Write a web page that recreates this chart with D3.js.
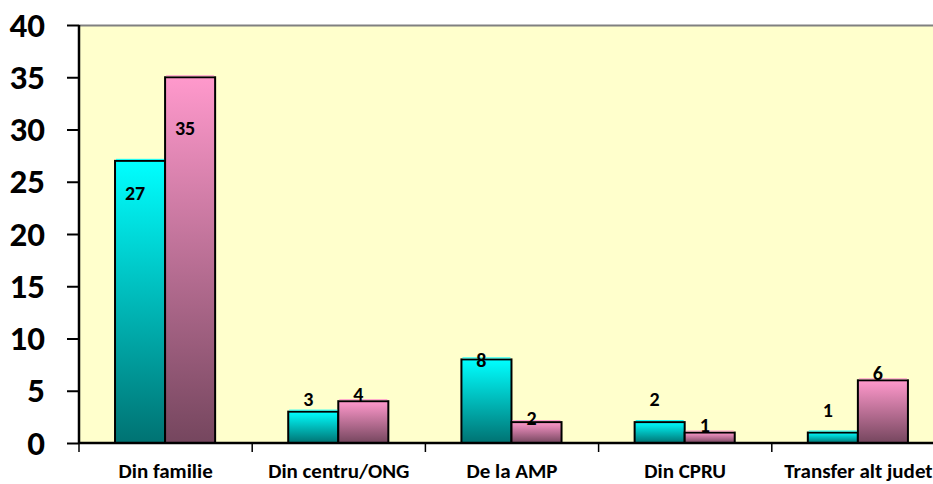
<!DOCTYPE html>
<html><head><meta charset="utf-8">
<script src="https://cdn.jsdelivr.net/npm/d3@7"></script>
<style>html,body{margin:0;padding:0;background:#fff;overflow:hidden}</style>
</head><body>
<svg id="c" width="933" height="484"></svg>
<script>
const categories = ["Din familie", "Din centru/ONG", "De la AMP", "Din CPRU", "Transfer alt judet"];
const seriesNames = ["S1", "S2"];
const series1 = [27, 3, 8, 2, 1];
const series2 = [35, 4, 2, 1, 6];
const yTicks = [0, 5, 10, 15, 20, 25, 30, 35, 40];
// label placement offsets (px, relative to bar top) as set manually in the original
const labelDy1 = [32, -13, 1, -23, -23];
const labelDy2 = [51, -7, -4, -8, -7];

(function () {
const svg = d3.select("#c");
const mLeft = 79, mTop = 25, mBottom = 443, mRight = 945;
const font = "Carlito, Calibri, Lato, 'Open Sans', sans-serif";

const x0 = d3.scaleBand().domain(categories).range([mLeft, mRight]);
const bw = x0.bandwidth();
const x1 = d3.scaleBand().domain(seriesNames).range([bw * 0.208, bw * 0.786]);
const y = d3.scaleLinear().domain([0, 40]).range([mBottom, mTop]);

const defs = svg.append("defs");
function grad(id, c1, c2) {
  const g = defs.append("linearGradient").attr("id", id).attr("x1", 0).attr("y1", 0).attr("x2", 0).attr("y2", 1);
  g.append("stop").attr("offset", "0%").attr("stop-color", c1);
  g.append("stop").attr("offset", "100%").attr("stop-color", c2);
}
grad("g1", "#00ffff", "#007272");
grad("g2", "#ff99cc", "#75465e");
const grads = ["url(#g1)", "url(#g2)"];
const topCols = ["#00ffff", "#ff99cc"];

svg.append("rect").attr("x", mLeft).attr("y", mTop).attr("width", mRight - mLeft).attr("height", mBottom - mTop)
  .attr("fill", "#ffffcc");
svg.append("line").attr("x1", mLeft).attr("x2", mRight).attr("y1", mTop + 0.5).attr("y2", mTop + 0.5)
  .attr("stroke", "#808080").attr("stroke-width", 2);

const data = categories.map((c, i) => ({ c, vals: [series1[i], series2[i]], dys: [labelDy1[i], labelDy2[i]] }));

const groups = svg.append("g").selectAll("g").data(data).join("g")
  .attr("transform", d => `translate(${x0(d.c)},0)`);

groups.selectAll("rect.bar").data(d => d.vals.map((v, k) => ({ v, k }))).join("rect")
  .attr("class", "bar")
  .attr("x", d => x1(seriesNames[d.k]))
  .attr("y", d => y(d.v))
  .attr("width", x1.bandwidth())
  .attr("height", d => y(0) - y(d.v))
  .attr("fill", d => grads[d.k])
  .attr("stroke", "#000").attr("stroke-width", 2);

groups.selectAll("line.hl").data(d => d.vals.map((v, k) => ({ v, k }))).join("line")
  .attr("class", "hl")
  .attr("x1", d => x1(seriesNames[d.k]) + 1)
  .attr("x2", d => x1(seriesNames[d.k]) + x1.bandwidth() - 1)
  .attr("y1", d => y(d.v) - 1.5).attr("y2", d => y(d.v) - 1.5)
  .attr("stroke", d => topCols[d.k]).attr("stroke-width", 1);

groups.selectAll("text.lbl").data(d => d.vals.map((v, k) => ({ v, k, dy: d.dys[k] }))).join("text")
  .attr("class", "lbl")
  .attr("x", d => x1(seriesNames[d.k]) + x1.bandwidth() / 2 - 5)
  .attr("y", d => y(d.v) + d.dy)
  .attr("dy", "0.35em")
  .attr("text-anchor", "middle")
  .attr("font-family", font).attr("font-weight", "bold").attr("font-size", 20)
  .attr("fill", "#000")
  .text(d => d.v);

const yAxis = svg.append("g").attr("transform", `translate(${mLeft},0)`)
  .call(d3.axisLeft(y).tickValues(yTicks).tickSize(12).tickPadding(22));
yAxis.select(".domain").attr("stroke", "#000").attr("stroke-width", 2.5).attr("d", `M0,${mTop}V${mBottom}`);
yAxis.selectAll(".tick line").attr("stroke", "#000").attr("stroke-width", 2);
yAxis.selectAll(".tick text").attr("font-family", font).attr("font-weight", 900).attr("font-size", 35).attr("fill", "#000");

const xAxis = svg.append("g").attr("transform", `translate(0,${mBottom})`)
  .call(d3.axisBottom(x0).tickSize(0).tickPadding(20));
xAxis.select(".domain").attr("stroke", "#000").attr("stroke-width", 2.5).attr("d", `M${mLeft},0H${mRight}`);
xAxis.selectAll(".tick text").attr("font-family", font).attr("font-weight", "bold").attr("font-size", 21).attr("fill", "#000");
const bounds = categories.map(c => x0(c)).concat([mRight]);
xAxis.selectAll("line.sep").data(bounds).join("line").attr("class", "sep")
  .attr("x1", d => d).attr("x2", d => d).attr("y1", 0).attr("y2", 9)
  .attr("stroke", "#000").attr("stroke-width", 1.5);
})();
</script>
</body></html>
